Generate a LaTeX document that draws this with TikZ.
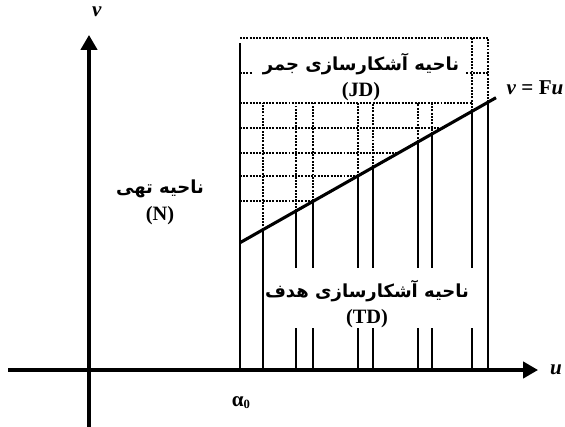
\documentclass[tikz,border=0pt]{standalone}
\usepackage{fontspec}
\setmainfont{Liberation Serif}
\newfontfamily\farsifont[Script=Arabic]{DejaVu Sans}
\TeXXeTstate=1
\usetikzlibrary{arrows.meta,calc}

\begin{document}
\begin{tikzpicture}[
  x=0.025cm, y=-0.025cm,
  axis/.style={line width=2.2pt, -{Triangle[length=10.5pt, width=11.5pt]}},
  bound/.style={line width=2pt},
  law/.style={line width=2.2pt},
  binline/.style={line width=0.75pt},
  gridline/.style={line width=0.75pt, dash pattern=on 1.4pt off 0.9pt},
  mask/.style={fill=white},
  lbl/.style={font=\bfseries\fontsize{15}{17}\selectfont},
  region/.style={align=center, font=\bfseries\fontsize{14.5}{19}\selectfont}
]

  \useasboundingbox (0,0) rectangle (565,427);

  % Key points
  \coordinate (xstart) at (8,370);
  \coordinate (xend) at (538,370);
  \coordinate (ystart) at (89,427);
  \coordinate (yend) at (89,35);
  \coordinate (a0bot) at (240,370);
  \coordinate (a0top) at (240,43);
  \coordinate (fstart) at (240,242.7);
  \coordinate (fend) at (496,97.7);

  % Solid bins under the line
  \foreach \xx in {263,296,313,358,373,418,432,472,488}{
    \pgfmathsetmacro\yy{242.7-0.5664*(\xx-240)}
    \draw[binline] (\xx,370) -- (\xx,\yy);
  }

  % Dotted cells above the line
  \foreach \xx in {263,296,313,358,373,418,432}{
    \pgfmathsetmacro\yy{242.7-0.5664*(\xx-240)}
    \draw[gridline] (\xx,\yy) -- (\xx,103);
  }
  \foreach \xx in {472,488}{
    \pgfmathsetmacro\yy{242.7-0.5664*(\xx-240)}
    \draw[gridline] (\xx,\yy) -- (\xx,38);
  }
  \foreach \yy/\xe in {38/488, 73/488, 103/472, 128/442, 153/398, 176/358, 201/313}
    \draw[gridline] (240,\yy) -- (\xe,\yy);

  % Region labels
  \fill[mask] (252,43) rectangle (466,100);
  \fill[mask] (275,268) rectangle (480,328);

  \node[region] (jdlabel) at (361,77)
    {{\farsifont\fontsize{12.8}{19}\selectfont\beginR ناحیه آشکارسازی جمر\endR}\\(JD)};
  \node[region] (tdlabel) at (367,304)
    {{\farsifont\fontsize{12.8}{19}\selectfont\beginR ناحیه آشکارسازی هدف\endR}\\(TD)};
  \node[region] (nlabel) at (160,202)
    {{\farsifont\fontsize{12.8}{19}\selectfont\beginR ناحیه تهی\endR}\\(N)};

  % Boundary and line
  \draw[bound] (a0bot) -- (a0top);
  \draw[law] (fstart) -- (fend);

  % Axes
  \draw[axis] (xstart) -- (xend);
  \draw[axis] (ystart) -- (yend);

  \node[lbl] (vlabel) at (97,12) {\textit{v}};
  \node[lbl] (ulabel) at (556,370) {\textit{u}};
  \node[lbl] (lawlabel) at (535,88) {\textit{v} = F\textit{u}};
  \node[lbl] (alphalabel) at (241,403) {α\raisebox{-0.2ex}{\fontsize{9}{10}\selectfont 0}};

\end{tikzpicture}
\end{document}
